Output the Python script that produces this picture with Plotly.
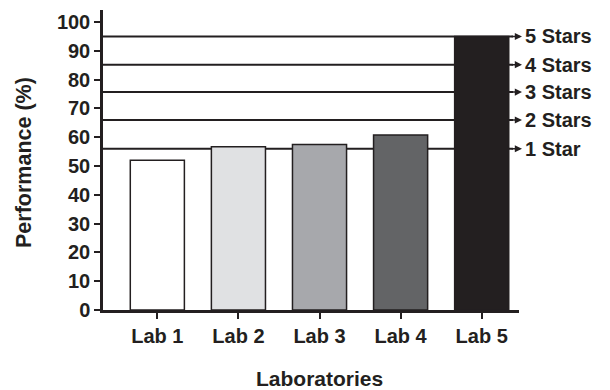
import plotly.graph_objects as go

labs = ["Lab 1", "Lab 2", "Lab 3", "Lab 4", "Lab 5"]
performance = [52, 56.7, 57.5, 60.8, 95]
bar_colors = ["#ffffff", "#e0e1e3", "#a7a8ac", "#636466", "#231f20"]
star_levels = [56, 66, 75.7, 85.2, 95]
star_labels = ["1 Star", "2 Stars", "3 Stars", "4 Stars", "5 Stars"]
y_ticks = list(range(0, 101, 10))

DARK = "#231f20"
FONT = "Liberation Sans, Arial, Helvetica, sans-serif"

# The page has an 8px body margin, so the figure is 602x382 and offset by 8px.
PLOT_W = 416

fig = go.Figure()
fig.add_trace(go.Bar(
    x=list(range(len(labs))), y=performance,
    marker=dict(color=bar_colors, line=dict(color=DARK, width=1.5)),
    width=0.667, showlegend=False, hoverinfo="skip",
))

x_end_line = (513 - 103) / PLOT_W
x_tip = (522 - 103) / PLOT_W
x_text = (523 - 103) / PLOT_W
for lvl, lab in zip(star_levels, star_labels):
    fig.add_shape(type="line", xref="paper", yref="y", x0=0, x1=x_end_line,
                  y0=lvl, y1=lvl, line=dict(color=DARK, width=2), layer="below")
    fig.add_annotation(xref="paper", yref="y", x=x_tip, y=lvl, text="",
                       showarrow=True, ax=-12, ay=0, arrowhead=2, arrowsize=0.9,
                       arrowwidth=1.6, arrowcolor=DARK)
    fig.add_annotation(xref="paper", yref="y", x=x_text, y=lvl, text=lab,
                       showarrow=False, xanchor="left", yanchor="middle",
                       font=dict(family=FONT, size=20, color=DARK, weight="bold"))

fig.add_annotation(xref="x", yref="paper", x=2, y=0, yshift=-68, text="Laboratories",
                   showarrow=False, xanchor="center", yanchor="middle",
                   font=dict(family=FONT, size=21, color=DARK, weight="bold"))
fig.add_annotation(xref="paper", yref="paper", x=0, xshift=-79, y=0.49,
                   text="Performance (%)", textangle=-90, showarrow=False,
                   xanchor="center", yanchor="middle",
                   font=dict(family=FONT, size=21.5, color=DARK, weight="bold"))

fig.update_layout(
    width=602, height=382,
    margin=dict(l=95, r=91, t=2, b=80),
    paper_bgcolor="white", plot_bgcolor="white",
    bargap=0.333,
)
fig.update_xaxes(
    range=[-0.67, 4.46], tickmode="array", tickvals=list(range(len(labs))),
    ticktext=labs, showgrid=False, zeroline=False, showline=True,
    linecolor=DARK, linewidth=2.5, ticks="outside", ticklen=6, tickwidth=2,
    tickcolor=DARK, tickfont=dict(family=FONT, size=20, color=DARK, weight="bold"),
)
fig.update_yaxes(
    range=[0, 104.2], tickmode="array", tickvals=y_ticks, showgrid=False,
    zeroline=False, showline=True, linecolor=DARK, linewidth=2.5,
    ticks="outside", ticklen=6, tickwidth=2, tickcolor=DARK,
    tickfont=dict(family=FONT, size=20, color=DARK, weight="bold"),
)

fig.write_html("out.html")
